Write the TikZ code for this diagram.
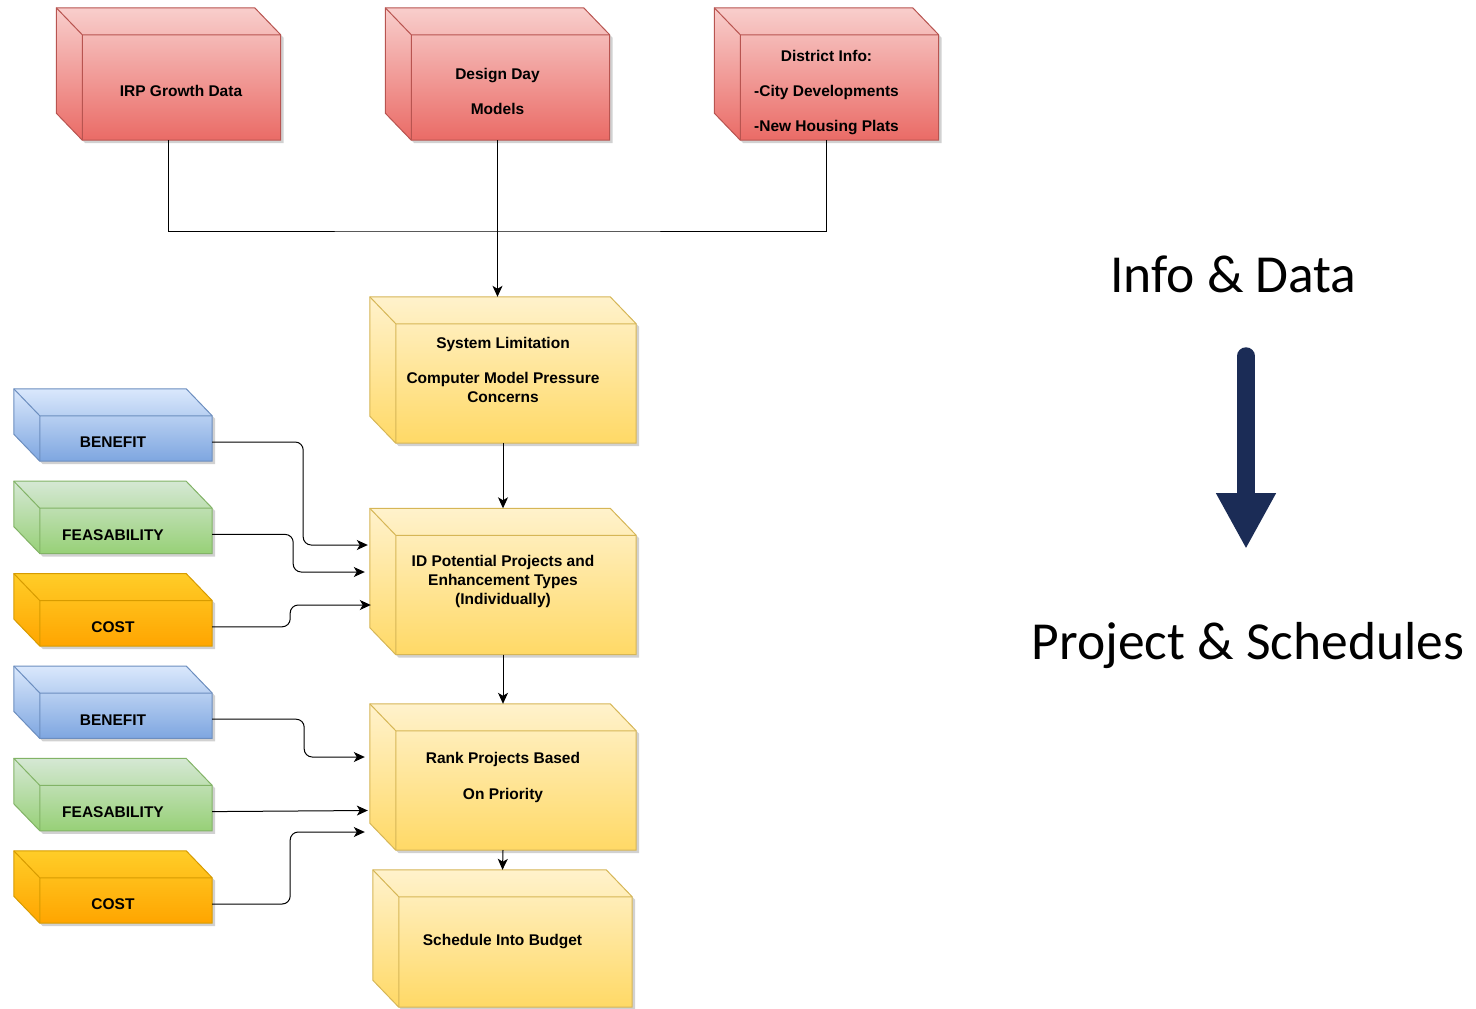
\documentclass[tikz,border=0pt]{standalone}
\usepackage{fontspec}
\setmainfont{Liberation Sans}
\newfontfamily\slidefont{Carlito}
\usetikzlibrary{calc,arrows.meta,positioning,backgrounds}
\definecolor{redT}{HTML}{F8CECC}
\definecolor{redB}{HTML}{EA6B66}
\definecolor{redL}{HTML}{B85450}
\definecolor{yelT}{HTML}{FFF2CC}
\definecolor{yelB}{HTML}{FFD966}
\definecolor{yelL}{HTML}{D6B656}
\definecolor{bluT}{HTML}{DAE8FC}
\definecolor{bluB}{HTML}{7EA6E0}
\definecolor{bluL}{HTML}{6C8EBF}
\definecolor{grnT}{HTML}{D5E8D4}
\definecolor{grnB}{HTML}{97D077}
\definecolor{grnL}{HTML}{82B366}
\definecolor{orgT}{HTML}{FFCD28}
\definecolor{orgB}{HTML}{FFA500}
\definecolor{orgL}{HTML}{D79B00}
\definecolor{navy}{HTML}{1B2C56}
\newcommand{\dropped}[2][-19pt]{\raisebox{#1}[\height][\depth]{\begin{tabular}{@{}c@{}}#2\end{tabular}}}

\begin{document}
\begin{tikzpicture}[x=1pt,y=-1pt,
		cube/.style={rectangle,inner sep=0pt,align=center,font=\fontsize{15.5}{19}\selectfont\bfseries},
		redcube/.style={cube,minimum width=224,minimum height=132},
		yelcube/.style={cube,minimum width=266,minimum height=146},
		sidecube/.style={cube,minimum width=198,minimum height=72},
		flow/.style={-{Stealth[length=11pt,width=10pt,inset=3pt]},line width=1pt,rounded corners=8pt},
		bigtext/.style={anchor=base,font=\slidefont\fontsize{53.5}{60}\selectfont}]
		\useasboundingbox (0,0) rectangle (1476,1009);
		% sources
		\node[redcube] (irp) at (168.5,74) {\dropped{\hspace*{25pt}IRP Growth Data}};
		\node[redcube] (design) at (497.5,74) {\dropped{Design Day\\[16pt]Models}};
		\node[redcube] (district) at (826.5,74) {\dropped{District Info:\\[16pt]-City Developments\\[16pt]-New Housing Plats}};
		% main steps
		\node[yelcube] (syslim) at (503,370) {System Limitation\\[16pt]Computer Model Pressure\\Concerns};
		\node[yelcube] (idproj) at (503,581.5) {ID Potential Projects and\\Enhancement Types\\(Individually)};
		\node[yelcube] (rank) at (503,777) {Rank Projects Based\\[17pt]On Priority};
		\node[yelcube,minimum width=259,minimum height=137] (sched) at (502.5,938.5) {\dropped[-3pt]{Schedule Into Budget}};
		% criteria
		\node[sidecube] (benA) at (113,425) {\dropped{BENEFIT}};
		\node[sidecube,below=20pt of benA] (feasA) {\dropped{FEASABILITY}};
		\node[sidecube,below=20pt of feasA] (costA) {\dropped{COST}};
		\node[sidecube,below=20pt of costA] (benB) {\dropped{BENEFIT}};
		\node[sidecube,below=20pt of benB] (feasB) {\dropped{FEASABILITY}};
		\node[sidecube,below=20pt of feasB] (costB) {\dropped{COST}};
		\begin{scope}[on background layer]
			\foreach \cb/\col in {irp/red,design/red,district/red,syslim/yel,idproj/yel,rank/yel,sched/yel,benA/blu,feasA/grn,costA/org,benB/blu,feasB/grn,costB/org}{
				\fill[black,opacity=.18] let \p1=(\cb.north west), \p2=(\cb.south east) in
					(\x1+3pt,\y1-3pt) -- (\x2-23pt,\y1-3pt) -- (\x2+3pt,\y1-30pt) -- (\x2+3pt,\y2-3pt) -- (\x1+29pt,\y2-3pt) -- (\x1+3pt,\y2+24pt) -- cycle;
				\shadedraw[top color=\col T,bottom color=\col B,draw=\col L,line width=1pt] let \p1=(\cb.north west), \p2=(\cb.south east) in
					(\x1,\y1) -- (\x2-26pt,\y1) -- (\x2,\y1-27pt) -- (\x2,\y2) -- (\x1+26pt,\y2) -- (\x1,\y2+27pt) -- cycle;
				\draw[draw=\col L,line width=1pt] let \p1=(\cb.north west), \p2=(\cb.south east) in
					(\x1,\y1) -- (\x1+26pt,\y1-27pt) -- (\x2,\y1-27pt) (\x1+26pt,\y1-27pt) -- (\x1+26pt,\y2);
			}
		\end{scope}
		% connectors
		\coordinate (merge) at (497.5,231);
		\draw[line width=1pt] (irp.south) |- (merge) -| (district.south);
		\draw[flow] (design.south) -- (design.south |- syslim.north);
		\draw[flow] (syslim.south) -- (idproj.north);
		\draw[flow] (idproj.south) -- (rank.north);
		\draw[flow] (rank.south) -- (sched.north);
		\draw[flow] ($(benA.east)+(0,17)$) -- ++(91,0) |- ($(idproj.west)+(-2,-36.5)$);
		\draw[flow] ($(feasA.east)+(0,17)$) -- ++(81,0) |- ($(idproj.west)+(-5,-9.5)$);
		\draw[flow] ($(costA.east)+(0,17)$) -- ++(78,0) |- ($(idproj.west)+(1,23.5)$);
		\draw[flow] ($(benB.east)+(0,17)$) -- ++(92,0) |- ($(rank.west)+(-5,-20)$);
		\draw[flow] ($(feasB.east)+(0,17)$) -- ($(rank.west)+(-2,33.5)$);
		\draw[flow] ($(costB.east)+(0,17)$) -- ++(78,0) |- ($(rank.west)+(-5,55)$);
		% legend
		\node[bigtext] (info) at (1233.5,292) {Info \& Data};
		\node[bigtext] (proj) at (1248,659) {Project \& Schedules};
		\coordinate (downtop) at (1246,356);
		\coordinate (downtip) at (1246,549);
		\draw[navy,line width=17.5pt,line cap=round,-{Triangle[length=56pt,width=56pt]}] (downtop) -- (downtip);
	\end{tikzpicture}
\end{document}
